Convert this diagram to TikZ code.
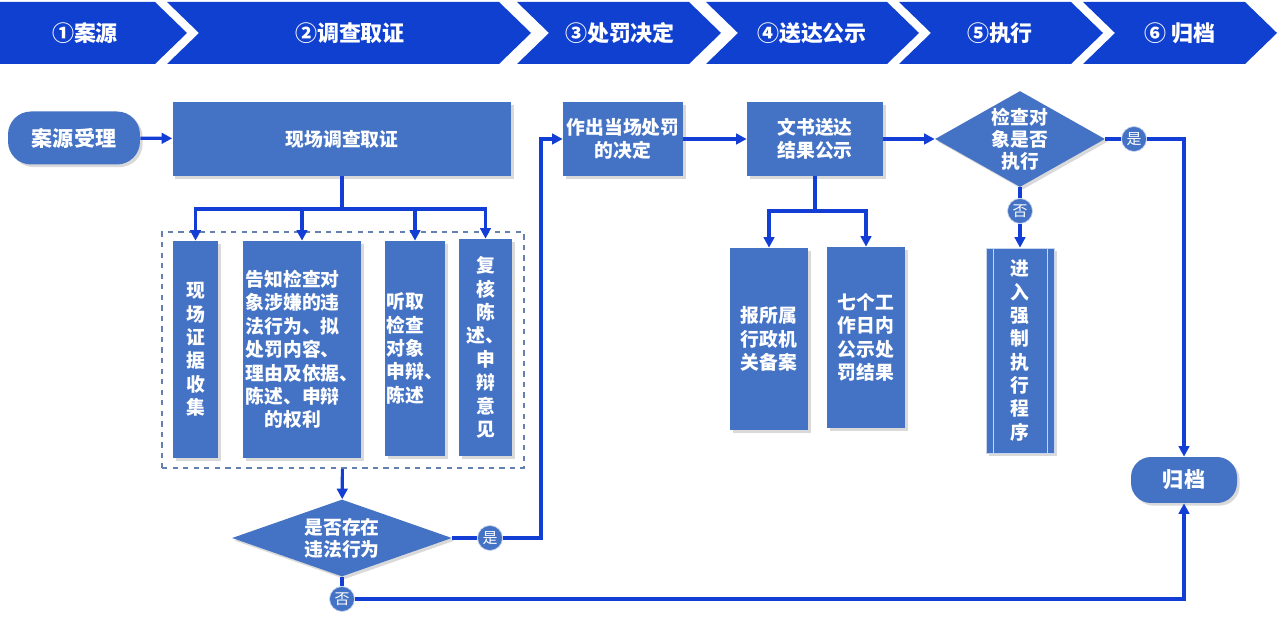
\documentclass[tikz,border=0pt]{standalone}
\usepackage{fontspec}
\newfontfamily\cjk{Noto Sans CJK SC}
\usetikzlibrary{arrows.meta,shapes.geometric,shadows}
\definecolor{boxblue}{RGB}{68,114,196}
\definecolor{headblue}{RGB}{16,64,208}
\definecolor{linkblue}{RGB}{18,62,214}
\definecolor{dashgray}{RGB}{100,128,176}

\begin{document}
\begin{tikzpicture}[x=0.02cm, y=-0.02cm,
    font=\cjk\bfseries\fontsize{10.7}{13.3}\selectfont,
    box/.style={fill=boxblue, text=white, inner sep=0pt, align=center,
      drop shadow={shadow xshift=1.5pt, shadow yshift=-1.5pt, opacity=0.3}},
    pill/.style={box, font=\cjk\bfseries\fontsize{12}{14}\selectfont},
    judge/.style={box, diamond, font=\cjk\bfseries\fontsize{10.7}{12.5}\selectfont},
    tag/.style={circle, fill=boxblue, draw=white!70!boxblue, text=white,
      minimum size=0.5cm, inner sep=0pt, font=\cjk\fontsize{8.5}{9}\selectfont},
    link/.style={draw=linkblue, line width=1.8pt},
    go/.style={link, -{Triangle[length=6pt, width=6pt]}},
    head/.style={fill=headblue},
    headtxt/.style={text=white, font=\cjk\bfseries\fontsize{12.5}{14}\selectfont}]
  \useasboundingbox (0,0) rectangle (1277,617);

  %% stage header
  \foreach \l/\r/\n/\c/\t [count=\i] in {0/155/0/85/①案源, 167/499/32/350/②调查取证,
      517/689/32/620/③处罚决定, 706/887/32/812/④送达公示, 899/1071/32/1000/⑤执行,
      1083/1245/32/1180/⑥ 归档}{
    \fill[head] (\l,2) -- (\r,2) -- ({\r+32},33) -- (\r,64) -- (\l,64) -- ({\l+\n},33) -- cycle;
    \node[headtxt] (h\i) at (\c,33) {\t};
  }

  %% investigation
  \node[pill, rounded corners=0.46cm, minimum width=2.64cm, minimum height=1.06cm] (start) at (74,138) {案源受理};
  \node[box, minimum width=6.78cm, minimum height=1.48cm] (survey) at (342,139) {现场调查取证};
  \node[draw=dashgray, dashed, line width=0.9pt, minimum width=7.24cm, minimum height=4.72cm] (grp) at (343,350) {};
  \node[box, minimum width=0.9cm, minimum height=4.34cm] (collect) at (195.5,349.5) {现\\场\\证\\据\\收\\集};
  \node[box, minimum width=2.36cm, minimum height=4.34cm, align=left] (notify) at (302,349.5)
    {告知检查对\\象涉嫌的违\\法行为、拟\\处罚内容、\\理由及依据、\\陈述、申辩\\\hspace{1em}的权利};
  \node[box, minimum width=1.2cm, minimum height=4.3cm, align=left] (hear) at (415,348.5) {听取\\检查\\对象\\申辩、\\陈述};
  \node[box, minimum width=1.06cm, minimum height=4.34cm] (review) at (485.5,347.5) {复\\核\\陈\\述、\\申\\辩\\意\\见};
  \node[judge, aspect=2.86, minimum width=4.4cm, minimum height=1.54cm] (judge1) at (342,538) {是否存在\\违法行为};
  \node[tag] (yes1) at (490,538) {是};
  \node[tag] (no1) at (342,599) {否};
  \coordinate (br1) at (342,209);
  \coordinate (up1) at (541,139);

  %% decision and delivery
  \node[box, minimum width=2.4cm, minimum height=1.48cm] (decide) at (623,139) {作出当场处罚\\的决定};
  \node[box, minimum width=2.72cm, minimum height=1.48cm] (deliver) at (815,139) {文书送达\\结果公示};
  \node[box, minimum width=1.56cm, minimum height=3.64cm] (report) at (769,339) {报所属\\行政机\\关备案};
  \node[box, minimum width=1.56cm, minimum height=3.62cm] (publish) at (866,337.5) {七个工\\作日内\\公示处\\罚结果};
  \coordinate (br2) at (815,211);

  %% execution and archive
  \node[judge, aspect=1.77, minimum width=3.4cm, minimum height=1.92cm] (judge2) at (1020,139) {检查对\\象是否\\执行};
  \node[tag] (yes2) at (1134,139) {是};
  \node[tag] (no2) at (1020,211) {否};
  \node[box, draw=white!70!boxblue, minimum width=1.36cm, minimum height=4.1cm] (enforce) at (1020,350.5) {进\\入\\强\\制\\执\\行\\程\\序};
  \draw[white!70!boxblue] ([xshift=0.16cm]enforce.north west) -- ([xshift=0.16cm]enforce.south west);
  \draw[white!70!boxblue] ([xshift=-0.15cm]enforce.north east) -- ([xshift=-0.15cm]enforce.south east);
  \node[pill, rounded corners=0.4cm, minimum width=2.12cm, minimum height=0.92cm] (archive) at (1184,480) {归档};

  %% connectors
  \draw[go] (start) -- (survey);
  \draw[link] (survey) -- (br1);
  \foreach \k in {collect, notify, hear, review}
    \draw[go] (br1) -| (\k.north);
  \draw[go] (grp) -- (judge1);
  \draw[link] (judge1) -- (yes1);
  \draw[go] (yes1) -| (up1) -- (decide);
  \draw[link] (judge1) -- (no1);
  \draw[go] (no1) -| (archive);
  \draw[go] (decide) -- (deliver);
  \draw[link] (deliver) -- (br2);
  \draw[go] (br2) -| (report.north);
  \draw[go] (br2) -| (publish.north);
  \draw[go] (deliver) -- (judge2);
  \draw[link] (judge2) -- (yes2);
  \draw[go] (yes2) -| (archive);
  \draw[link] (judge2) -- (no2);
  \draw[go] (no2) -- (enforce);

\end{tikzpicture}
\end{document}
